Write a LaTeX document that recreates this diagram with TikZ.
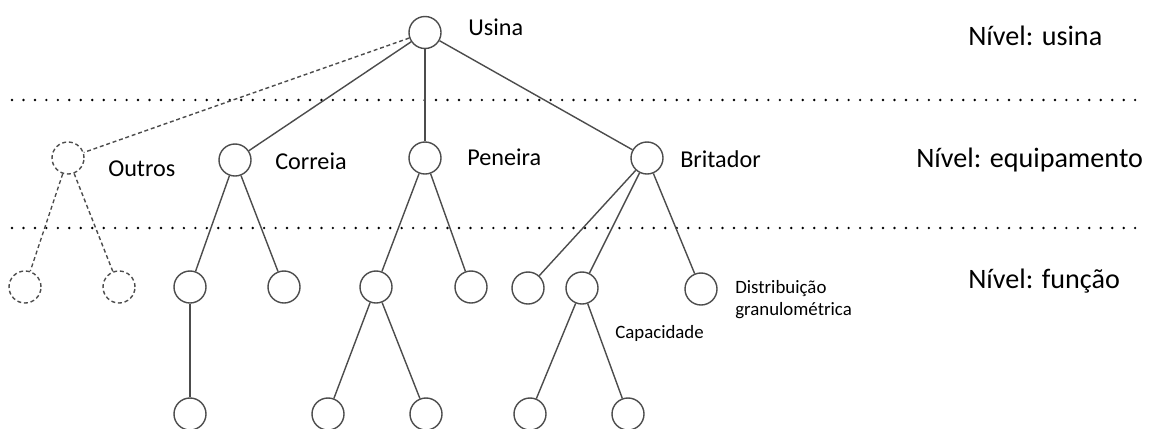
\documentclass[tikz,border=0pt]{standalone}
\usepackage{fontspec}
\setmainfont{Carlito}
\usetikzlibrary{positioning}
\tikzstyle{fn}=[draw=black!70,circle,minimum size=0.8cm,inner sep=0pt,line width=1pt]
\tikzstyle{fnx}=[fn,dash pattern=on 2.8pt off 2pt]
\tikzstyle{lbl}=[anchor=base west,inner sep=0pt,font=\fontsize{17.2}{20}\selectfont]
\tikzstyle{lvl}=[anchor=base west,inner sep=0pt,font=\fontsize{20}{24}\selectfont]
\tikzstyle{small}=[anchor=base west,inner sep=0pt,font=\fontsize{13.4}{16}\selectfont]
\tikzstyle{edge}=[draw=black!70,line width=1pt]
\tikzstyle{edgex}=[edge,dash pattern=on 2.8pt off 2pt]
\tikzstyle{sep}=[line width=1.9pt,line cap=round,dash pattern=on 0pt off 8.15pt]

\begin{document}
\begin{tikzpicture}[x=0.025cm,y=-0.025cm]
\useasboundingbox (0,0) rectangle (1149,428);
\node[fn] (u) at (425,32.5) {};
\node[fnx] (e1) at (68,158) {};
\node[fn] (e2) at (235,160) {};
\node[fn] (e3) at (425,158) {};
\node[fn] (e4) at (647,158) {};
\node[fnx] (f1) at (25,287) {};
\node[fnx] (f2) at (119,287) {};
\node[fn] (f3) at (190,287) {};
\node[fn] (f4) at (284,287) {};
\node[fn] (f5) at (376,287) {};
\node[fn] (f6) at (471,287) {};
\node[fn] (f7) at (528,288) {};
\node[fn] (f8) at (582,288) {};
\node[fn] (f9) at (701,289) {};
\node[fn] (g1) at (190,414) {};
\node[fn] (g2) at (328,414) {};
\node[fn] (g3) at (426,414) {};
\node[fn] (g4) at (530,414) {};
\node[fn] (g5) at (628,414) {};

\node[lbl] (tu) at (468,35) {Usina};
\node[lbl] (t1) at (108,176) {Outros};
\node[lbl] (t2) at (275,169) {Correia};
\node[lbl] (t3) at (467,165) {Peneira};
\node[lbl] (t4) at (680,167) {Britador};
\node[small] (t9) at (735,293) {Distribuição};
\node[small] (t9b) at (735,315) {granulométrica};
\node[small] (t8) at (615,338) {Capacidade};
\node[lvl] (l1) at (968,45) {Nível: usina};
\node[lvl] (l2) at (916,167) {Nível: equipamento};
\node[lvl] (l3) at (968,288) {Nível: função};

\coordinate (a1) at (12,100);
\coordinate (b1) at (1145,100);
\coordinate (a2) at (12,228);
\coordinate (b2) at (1145,228);
\draw[sep] (a1) -- (b1);
\draw[sep] (a2) -- (b2);

\draw[edgex] (u) -- (e1);
\draw[edge] (u) -- (e2);
\draw[edge] (u) -- (e3);
\draw[edge] (u) -- (e4);
\draw[edgex] (e1) -- (f1);
\draw[edgex] (e1) -- (f2);
\draw[edge] (e2) -- (f3);
\draw[edge] (e2) -- (f4);
\draw[edge] (e3) -- (f5);
\draw[edge] (e3) -- (f6);
\draw[edge] (e4) -- (f7);
\draw[edge] (e4) -- (f8);
\draw[edge] (e4) -- (f9);
\draw[edge] (f3) -- (g1);
\draw[edge] (f5) -- (g2);
\draw[edge] (f5) -- (g3);
\draw[edge] (f8) -- (g4);
\draw[edge] (f8) -- (g5);
\end{tikzpicture}
\end{document}
